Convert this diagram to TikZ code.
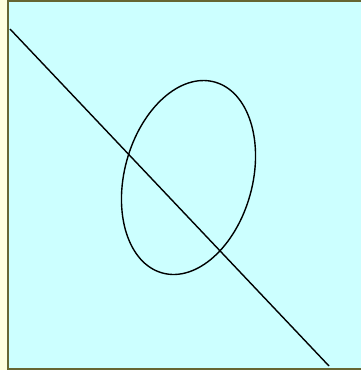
\documentclass[tikz,border=0pt]{standalone}
\usepackage{tikz}
\definecolor{paperColor}{RGB}{255,255,224}
\definecolor{frameColor}{RGB}{102,102,51}
\definecolor{fieldColor}{RGB}{204,255,255}
\tikzset{curve/.style={line width=1.4pt, black}}

\begin{document}
\begin{tikzpicture}[x=1pt, y=-1pt]
            % Canvas
            \useasboundingbox (0, 0) rectangle (361, 370);
            \fill[paperColor] (-5, -5) rectangle (380, 380);
            
            % Framed field
            \fill[frameColor] (6.5, -5) rectangle (380, 380);
            \fill[fieldColor] (9.1, 2.3) rectangle (380, 367.7);
            
            % Oblique line
            \draw[curve] (10, 29) -- (329, 366);
            
            % Tilted ellipse
            \draw[curve, shift={(188.5, 177.5)}, rotate=74.7] (0, 0) ellipse [x radius=99, y radius=64];
            
        \end{tikzpicture}
\end{document}
